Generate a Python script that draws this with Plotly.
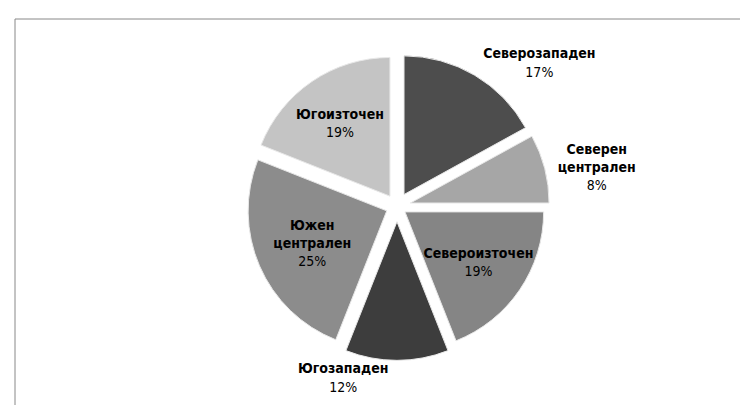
import plotly.graph_objects as go

regions = ["Северозападен", "Северен централен", "Североизточен",
           "Югозападен", "Южен централен", "Югоизточен"]
display_names = ["Северозападен", "Северен<br>централен", "Североизточен",
                 "Югозападен", "Южен<br>централен", "Югоизточен"]
shares = [17, 8, 19, 12, 25, 19]

colors = ["#4d4d4d", "#a6a6a6", "#858585", "#3d3d3d", "#8c8c8c", "#c4c4c4"]
positions = ["outside", "outside", "inside", "outside", "inside", "inside"]
pulls = [0.1, 0.1, 0.07, 0.11, 0.08, 0.09]

font_family = "DejaVu Sans Condensed, Liberation Sans, Arial, sans-serif"

fig = go.Figure(go.Pie(
    labels=regions,
    values=shares,
    text=display_names,
    texttemplate="<b>%{text}</b><br>%{percent:.0%}",
    textposition=positions,
    insidetextorientation="horizontal",
    sort=False,
    direction="clockwise",
    rotation=0,
    pull=pulls,
    automargin=False,
    marker=dict(colors=colors, line=dict(color="#e8e8e8", width=1)),
    textfont=dict(family=font_family, size=14, color="black"),
    outsidetextfont=dict(family=font_family, size=14, color="black"),
    insidetextfont=dict(family=font_family, size=14, color="black"),
    showlegend=False,
    domain=dict(x=[0.2, 0.84], y=[0.13, 0.89]),
))

fig.update_layout(
    width=748, height=405,
    margin=dict(l=0, r=0, t=0, b=0, pad=0, autoexpand=False),
    paper_bgcolor="white",
    plot_bgcolor="white",
    uniformtext=dict(minsize=14, mode="show"),
    shapes=[dict(type="rect", xref="paper", yref="paper",
                 x0=7/748, x1=1.05, y0=-0.05, y1=1-11/405,
                 line=dict(color="#888888", width=1))],
)

fig.write_html("out.html")
